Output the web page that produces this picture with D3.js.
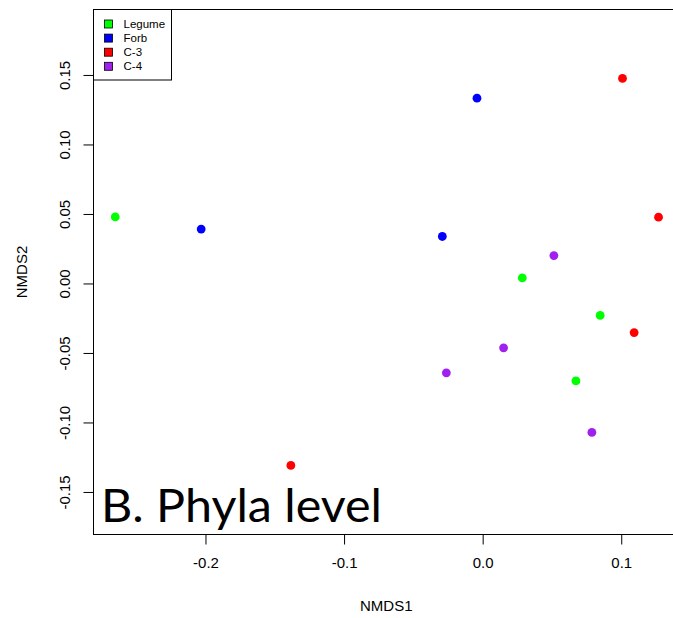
<!DOCTYPE html>
<html>
<head>
<meta charset="utf-8">
<script src="https://cdn.jsdelivr.net/npm/d3@7"></script>
<style>
  html, body { margin: 0; padding: 0; background: #fff; }
  svg { display: block; }
  text { font-family: "Liberation Sans", Arial, sans-serif; }
</style>
</head>
<body>
<svg id="chart" width="673" height="618"></svg>
<script>
// Functional groups and their plotting colours
const groups = ["Legume", "Forb", "C-3", "C-4"];
const groupColors = ["#00ff00", "#0000ff", "#ff0000", "#a020f0"];

// NMDS site scores (axis 1, axis 2) and group of each plot
const nmds1 = [-0.2651, -0.2031, -0.0041, 0.1009, 0.1269, -0.0291, 0.0514, 0.0286,
               0.0848, 0.1093, 0.0151, -0.0262, 0.0673, 0.0788, -0.1384];
const nmds2 = [0.0479, 0.0391, 0.1333, 0.1475, 0.0477, 0.0338, 0.0201, 0.0040,
               -0.0230, -0.0353, -0.0463, -0.0643, -0.0701, -0.1072, -0.1309];
const pointGroup = ["Legume", "Forb", "Forb", "C-3", "C-3", "Forb", "C-4", "Legume",
                    "Legume", "C-3", "C-4", "C-4", "Legume", "C-4", "C-3"];

// Axis tick values
const xTicks = [-0.2, -0.1, 0.0, 0.1];
const yTicks = [-0.15, -0.10, -0.05, 0.00, 0.05, 0.10, 0.15];

const svg = d3.select("#chart");
const plot = { left: 93.5, top: 9.5, right: 685, bottom: 534.5 };

const x = d3.scaleLinear().domain([-0.2808, 0.146]).range([plot.left, plot.right]);
const y = d3.scaleLinear().domain([-0.1806, 0.1971]).range([plot.bottom, plot.top]);
const color = d3.scaleOrdinal().domain(groups).range(groupColors);

// Tick formats using a plain hyphen for negatives
const fmt = f => v => d3.format(f)(v).replace("\u2212", "-");

// Points
svg.append("g")
  .selectAll("circle")
  .data(nmds1.map((v, i) => ({ x: v, y: nmds2[i], g: pointGroup[i] })))
  .join("circle")
  .attr("cx", d => x(d.x))
  .attr("cy", d => y(d.y))
  .attr("r", 4.4)
  .attr("fill", d => color(d.g));

// Bottom axis
const xAxis = svg.append("g")
  .attr("transform", `translate(0,${plot.bottom})`)
  .call(d3.axisBottom(x).tickValues(xTicks).tickFormat(fmt(".1f")).tickSize(10).tickPadding(13));
xAxis.select(".domain").remove();
xAxis.selectAll("line").attr("stroke", "#000");
xAxis.selectAll("text").attr("font-size", 15).attr("fill", "#000")
  .style("font-family", "'Liberation Sans', Arial, sans-serif");

// Left axis with rotated labels
const yAxis = svg.append("g")
  .attr("transform", `translate(${plot.left},0)`)
  .call(d3.axisLeft(y).tickValues(yTicks).tickFormat(fmt(".2f")).tickSize(10));
yAxis.select(".domain").remove();
yAxis.selectAll("line").attr("stroke", "#000");
yAxis.selectAll("text")
  .attr("font-size", 15).attr("fill", "#000")
  .style("font-family", "'Liberation Sans', Arial, sans-serif")
  .attr("x", null).attr("dy", null)
  .attr("text-anchor", "middle")
  .attr("dominant-baseline", "central")
  .attr("transform", "translate(-29.5,0) rotate(-90)");

// Plot frame
svg.append("rect")
  .attr("x", plot.left).attr("y", plot.top)
  .attr("width", plot.right - plot.left).attr("height", plot.bottom - plot.top)
  .attr("fill", "none").attr("stroke", "#000").attr("stroke-width", 1);

// Axis titles
const cx = (plot.left + plot.right) / 2;
svg.append("text").attr("x", cx - 3).attr("y", 611)
  .attr("text-anchor", "middle").attr("font-size", 15).text("NMDS1");
svg.append("text")
  .attr("transform", `translate(27,${(plot.top + plot.bottom) / 2}) rotate(-90)`)
  .attr("text-anchor", "middle").attr("font-size", 15).text("NMDS2");

// Legend
const lg = svg.append("g");
lg.append("rect").attr("x", plot.left).attr("y", plot.top)
  .attr("width", 78).attr("height", 70.5)
  .attr("fill", "#fff").attr("stroke", "#000");
groups.forEach((g, i) => {
  const cy = 24 + i * 14.1;
  lg.append("rect").attr("x", 104.5).attr("y", cy - 4).attr("width", 8).attr("height", 8)
    .attr("fill", color(g)).attr("stroke", "#000").attr("stroke-width", 0.8);
  lg.append("text").attr("x", 123.5).attr("y", cy).attr("dominant-baseline", "central")
    .attr("font-size", 11.5).text(g);
});

// Panel label
svg.append("text")
  .attr("x", 101).attr("y", 521.5)
  .attr("font-size", 46)
  .attr("textLength", 281).attr("lengthAdjust", "spacingAndGlyphs")
  .style("font-family", "Lato, 'Open Sans', sans-serif")
  .text("B. Phyla level");
</script>
</body>
</html>
